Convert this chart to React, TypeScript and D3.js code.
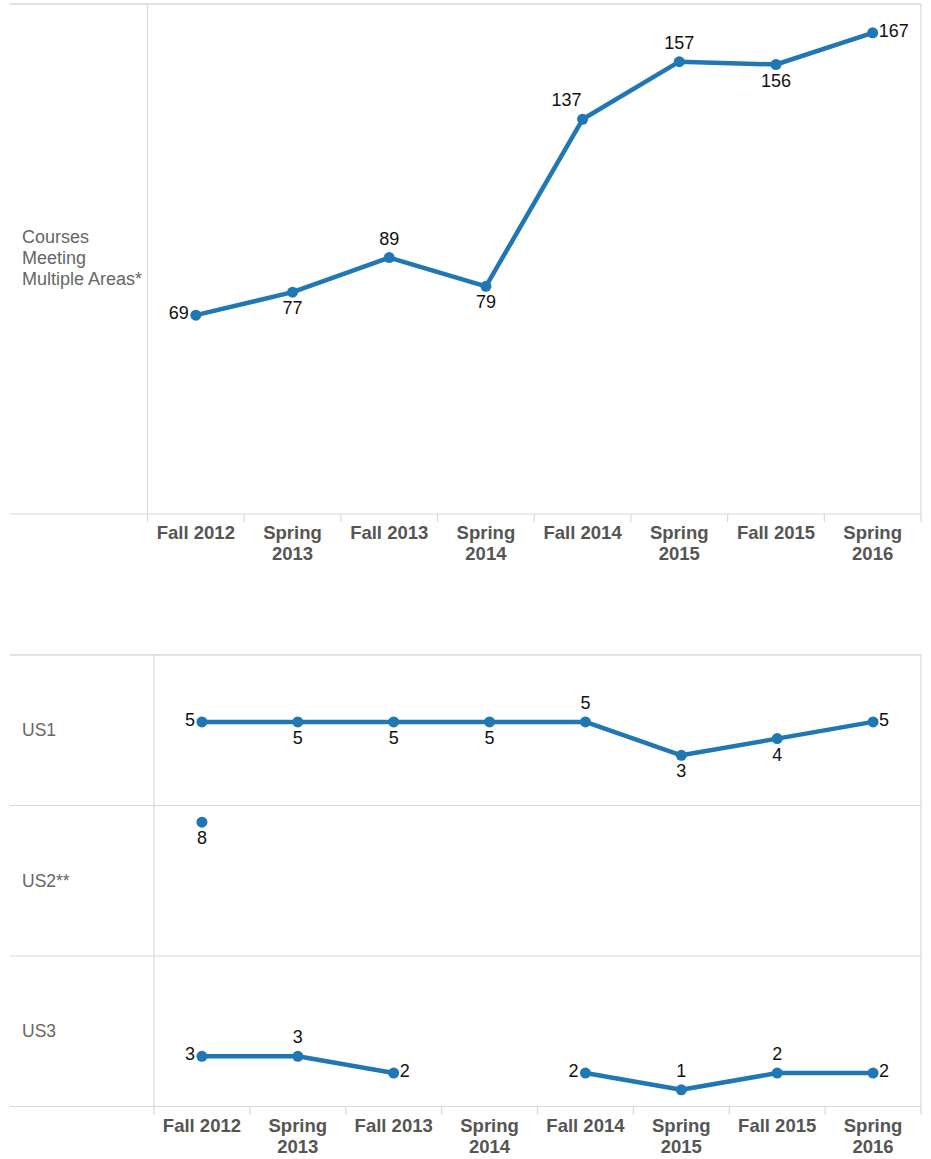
import { useEffect, useRef } from 'react'
import * as d3 from 'd3'

const terms = ['Fall 2012', 'Spring 2013', 'Fall 2013', 'Spring 2014', 'Fall 2014', 'Spring 2015', 'Fall 2015', 'Spring 2016']

const multiAreaCourses = [69, 77, 89, 79, 137, 157, 156, 167]
const multiAreaLabelPos = ['left', 'below', 'above', 'below', 'aboveLeft', 'above', 'below', 'right']

const rowNames = ['US1', 'US2**', 'US3']
const us1 = [5, 5, 5, 5, 5, 3, 4, 5]
const us2 = [8, null, null, null, null, null, null, null]
const us3 = [3, 3, 2, null, 2, 1, 2, 2]
const us1LabelPos = ['left', 'below', 'below', 'below', 'above', 'below', 'below', 'right']
const us2LabelPos = ['below', null, null, null, null, null, null, null]
const us3LabelPos = ['left', 'above', 'right', null, 'left', 'above', 'above', 'right']

const BLUE = '#1f77b4'
const GRID = '#d9d9d9'
const FONT = '"Liberation Sans", Arial, sans-serif'

type Val = number | null

function drawSeries(g: any, x: d3.ScaleBand<string>, y: d3.ScaleLinear<number, number>, values: Val[], pos: (string | null)[]) {
  const line = d3.line<Val>()
    .defined(d => d !== null)
    .x((_, i) => (x(terms[i]) as number) + x.bandwidth() / 2)
    .y(d => y(d as number))

  g.append('path')
    .datum(values)
    .attr('fill', 'none')
    .attr('stroke', BLUE)
    .attr('stroke-width', 4.5)
    .attr('stroke-linejoin', 'round')
    .attr('d', line)

  values.forEach((v, i) => {
    if (v === null) return
    const cx = (x(terms[i]) as number) + x.bandwidth() / 2
    const cy = y(v)
    g.append('circle')
      .attr('cx', cx)
      .attr('cy', cy)
      .attr('r', 5.5)
      .attr('fill', BLUE)

    const p = pos[i]
    let tx = cx, ty = cy, anchor = 'middle'
    if (p === 'left') { tx = cx - 7; ty = cy + 4; anchor = 'end' }
    else if (p === 'right') { tx = cx + 6; ty = cy + 4; anchor = 'start' }
    else if (p === 'above') { ty = cy - 13 }
    else if (p === 'aboveLeft') { tx = cx - 16; ty = cy - 13 }
    else if (p === 'below') { ty = cy + 22 }
    g.append('text')
      .attr('x', tx)
      .attr('y', ty)
      .attr('text-anchor', anchor)
      .attr('font-size', 18)
      .attr('fill', '#111')
      .text(v)
  })
}

function drawXAxis(g: any, x: d3.ScaleBand<string>, axisY: number) {
  const edges = terms.map(t => x(t) as number).concat([x.range()[1]])
  edges.forEach(e => {
    g.append('line')
      .attr('x1', e).attr('x2', e)
      .attr('y1', axisY).attr('y2', axisY + 8)
      .attr('stroke', GRID).attr('stroke-width', 1.2)
  })
  terms.forEach(t => {
    const cx = (x(t) as number) + x.bandwidth() / 2
    const parts = t.startsWith('Spring') ? t.split(' ') : [t]
    const txt = g.append('text')
      .attr('x', cx)
      .attr('y', axisY + 25)
      .attr('text-anchor', 'middle')
      .attr('font-size', 18.5)
      .attr('font-weight', 'bold')
      .attr('fill', '#555')
    parts.forEach((p, k) => {
      txt.append('tspan').attr('x', cx).attr('dy', k === 0 ? 0 : 21).text(p)
    })
  })
}

export default function App() {
  const svgRef = useRef<SVGSVGElement>(null)

  useEffect(() => {
    if (!svgRef.current) return
    const svg = d3.select(svgRef.current)
    svg.selectAll('*').remove()
    svg.attr('font-family', FONT)

    const left = 10
    const right = 921

    // Top panel: courses meeting multiple areas
    const top = { y0: 4, y1: 514, x0: 147.5 }
    const x1 = d3.scaleBand<string>().domain(terms).range([top.x0, right]).padding(0)
    const y1 = d3.scaleLinear().domain([0, 177]).range([top.y1, top.y0])
    const g1 = svg.append('g')

    g1.append('line').attr('x1', left).attr('x2', right).attr('y1', top.y0).attr('y2', top.y0)
      .attr('stroke', GRID).attr('stroke-width', 1.5)
    g1.append('line').attr('x1', left).attr('x2', right).attr('y1', top.y1).attr('y2', top.y1)
      .attr('stroke', GRID).attr('stroke-width', 1.2)
    g1.append('line').attr('x1', top.x0).attr('x2', top.x0).attr('y1', top.y0).attr('y2', top.y1)
      .attr('stroke', GRID).attr('stroke-width', 1.2)
    g1.append('line').attr('x1', right).attr('x2', right).attr('y1', top.y0).attr('y2', top.y1)
      .attr('stroke', GRID).attr('stroke-width', 1.2)

    const lbl = g1.append('text').attr('x', 22).attr('font-size', 18).attr('fill', '#666')
    ;['Courses', 'Meeting', 'Multiple Areas*'].forEach((s, k) => {
      lbl.append('tspan').attr('x', 22).attr('y', 243 + k * 21).text(s)
    })

    drawXAxis(g1, x1, top.y1)
    drawSeries(g1, x1, y1, multiAreaCourses, multiAreaLabelPos)

    // Bottom panel: US1 / US2 / US3 rows
    const bot = { y0: 655, y1: 1106.5, x0: 154 }
    const x2 = d3.scaleBand<string>().domain(terms).range([bot.x0, right]).padding(0)
    const rows = d3.scaleBand<string>().domain(rowNames).range([bot.y0, bot.y1]).padding(0)
    const g2 = svg.append('g')

    const rowEdges = rowNames.map(r => rows(r) as number).concat([bot.y1])
    rowEdges.forEach((e, k) => {
      g2.append('line').attr('x1', left).attr('x2', right).attr('y1', e).attr('y2', e)
        .attr('stroke', GRID).attr('stroke-width', k === 0 ? 1.5 : 1.2)
    })
    g2.append('line').attr('x1', bot.x0).attr('x2', bot.x0).attr('y1', bot.y0).attr('y2', bot.y1)
      .attr('stroke', GRID).attr('stroke-width', 1.2)
    g2.append('line').attr('x1', right).attr('x2', right).attr('y1', bot.y0).attr('y2', bot.y1)
      .attr('stroke', GRID).attr('stroke-width', 1.2)

    const rowSeries: [Val[], (string | null)[]][] = [[us1, us1LabelPos], [us2, us2LabelPos], [us3, us3LabelPos]]
    rowNames.forEach((r, k) => {
      const ry = rows(r) as number
      g2.append('text')
        .attr('x', 22)
        .attr('y', ry + rows.bandwidth() / 2 + 6)
        .attr('font-size', 17.5)
        .attr('fill', '#666')
        .text(r)
      const y = d3.scaleLinear().domain([0, 9]).range([ry + rows.bandwidth(), ry])
      drawSeries(g2, x2, y, rowSeries[k][0], rowSeries[k][1])
    })

    drawXAxis(g2, x2, bot.y1)
  }, [])

  return (
    <svg
      ref={svgRef}
      width={931}
      height={1159}
      style={{ position: 'absolute', left: 0, top: 0, background: '#fff' }}
    />
  )
}
